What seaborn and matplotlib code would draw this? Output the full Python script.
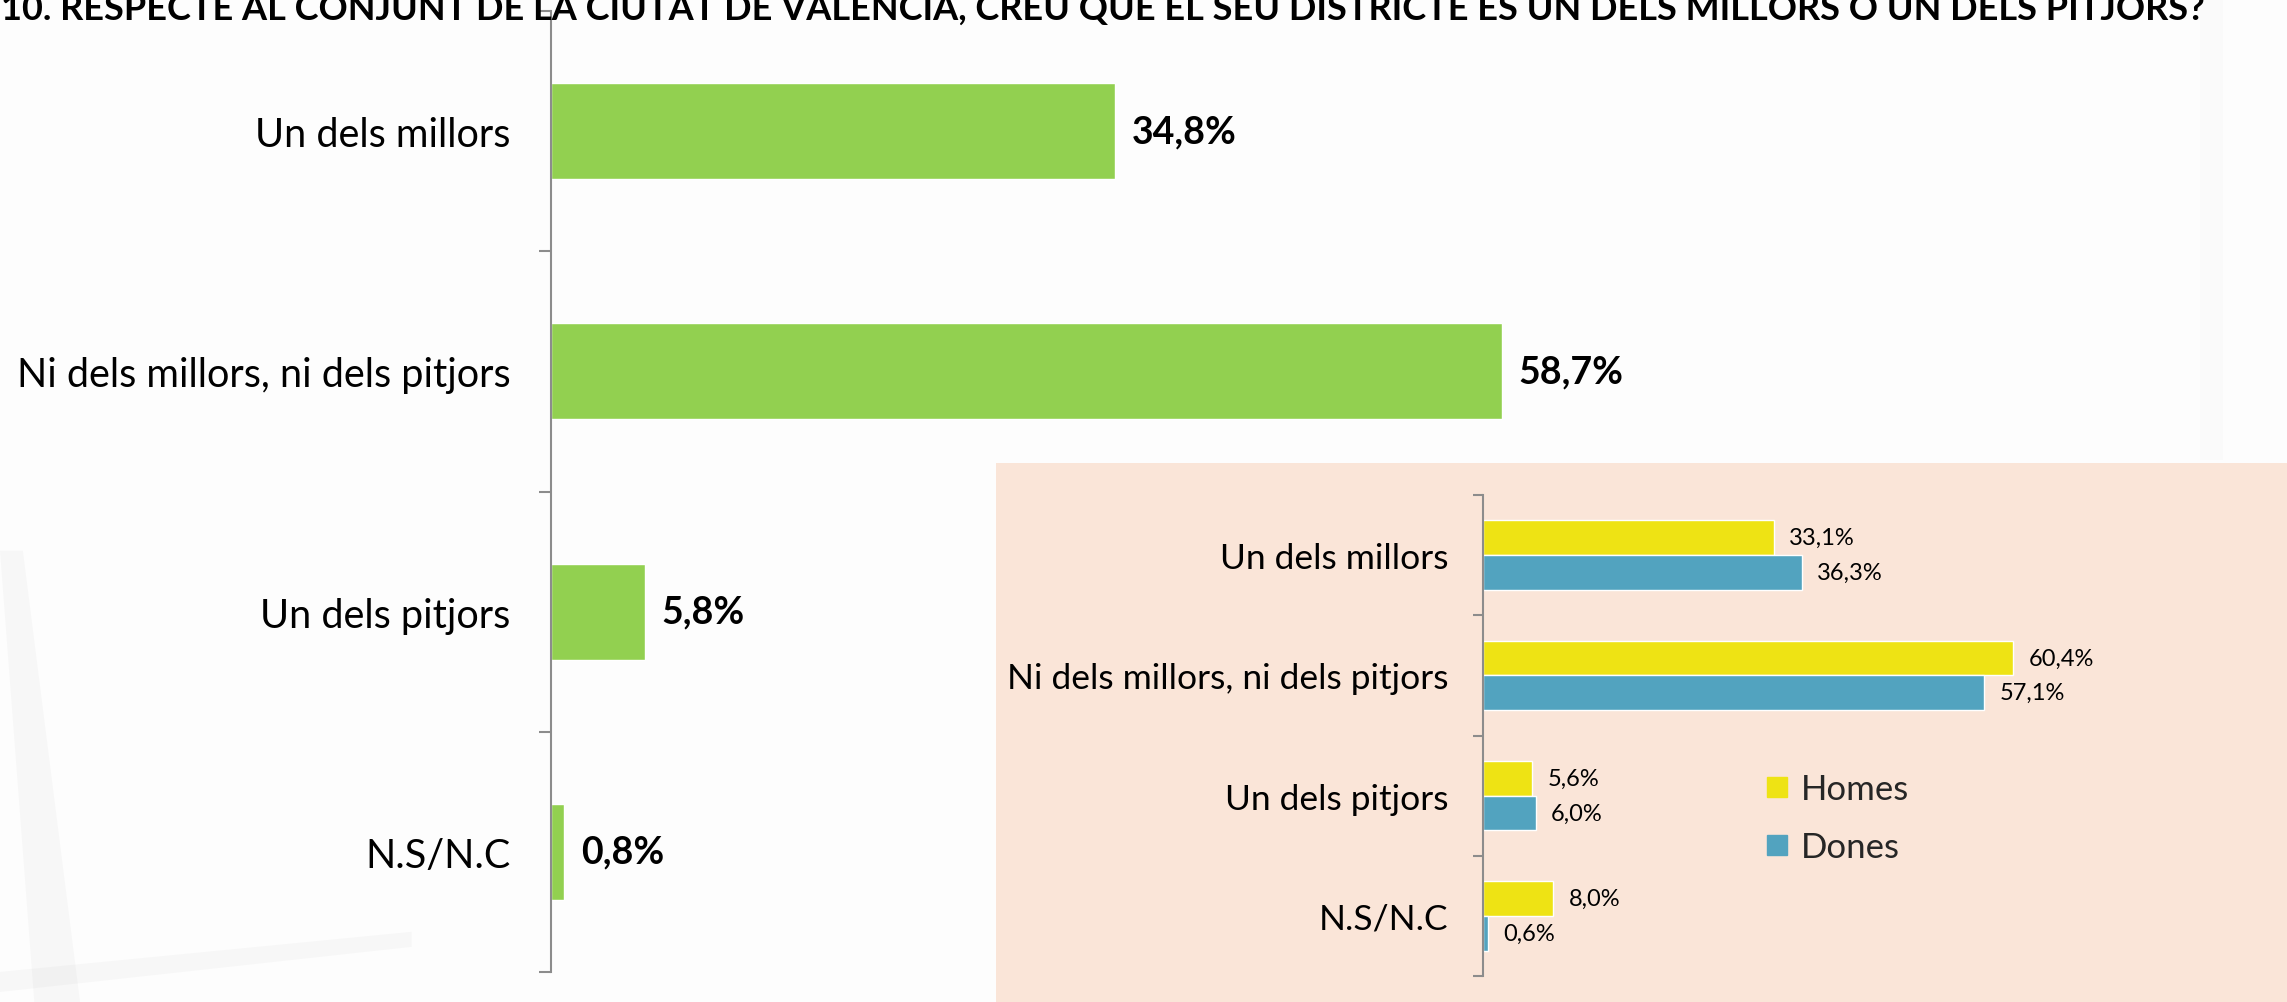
import matplotlib
matplotlib.use("Agg")
import matplotlib.pyplot as plt
import seaborn as sns
import pandas as pd
from matplotlib.patches import Rectangle, Polygon
from matplotlib.lines import Line2D

# dades
categories = ['Un dels millors', 'Ni dels millors, ni dels pitjors', 'Un dels pitjors', 'N.S/N.C']
total = [34.8, 58.7, 5.8, 0.8]
homes = [33.1, 60.4, 5.6, 8.0]
dones = [36.3, 57.1, 6.0, 0.6]
sexes = ['Homes', 'Dones']

title = ('10. RESPECTE AL CONJUNT DE LA CIUTAT DE VALÈNCIA, CREU QUE EL SEU '
         'DISTRICTE ÉS UN DELS MILLORS O UN DELS PITJORS?')

GREEN = '#92D050'
YELLOW = '#EEE314'
BLUE = '#52A3BF'
PEACH = '#FAE5D8'
AXIS_GREY = '#8C8C8C'


def pct(v):
    return f'{v:.1f}%'.replace('.', ',')


sns.set_theme(style='white')
plt.rcParams['font.family'] = ['Lato', 'DejaVu Sans']

W, H = 2287, 1003
fig = plt.figure(figsize=(W / 100, H / 100), dpi=100)
fig.patch.set_facecolor('#fdfdfd')

# fons: ombres suaus
fig.add_artist(Polygon([(0, 0.45), (0.010, 0.45), (0.035, 0.0), (0.015, 0.0)],
                       closed=True, transform=fig.transFigure, color='#a0a0a0', alpha=0.06, lw=0, zorder=-2))
fig.add_artist(Polygon([(0, 0.03), (0.18, 0.07), (0.18, 0.055), (0, 0.010)],
                       closed=True, transform=fig.transFigure, color='#a0a0a0', alpha=0.06, lw=0, zorder=-2))
fig.add_artist(Polygon([(0.962, 1.0), (0.972, 1.0), (0.972, 0.54), (0.962, 0.54)],
                       closed=True, transform=fig.transFigure, color='#a0a0a0', alpha=0.025, lw=0, zorder=-2))

# títol (tallat per dalt com a l'original)
fig.text(2205 / W, 1 - 20 / H, title, ha='right', va='baseline',
         fontsize=26, fontweight='bold', color='black')

# gràfic principal
ax = fig.add_axes([551 / W, 1 - 973 / H, 1620 / W, (973 - 12) / H])
ax.set_facecolor('none')
sns.barplot(x=total, y=categories, color=GREEN, saturation=1, width=0.4, ax=ax)
ax.set_xlim(0, 100)
ax.set_ylim(3.5, -0.5)
ax.bar_label(ax.containers[0], labels=[pct(v) for v in total], padding=12,
             fontsize=27, fontweight='bold', color='black')
for s in ['top', 'right', 'bottom']:
    ax.spines[s].set_visible(False)
ax.spines['left'].set_color(AXIS_GREY)
ax.spines['left'].set_linewidth(1.5)
ax.set_xticks([])
ax.set_yticks([-0.5, 0.5, 1.5, 2.5, 3.5], minor=True)
ax.tick_params(axis='y', which='major', length=0, pad=29, labelsize=28.5, labelcolor='black')
ax.tick_params(axis='y', which='minor', left=True, length=9, width=1.5, color=AXIS_GREY, direction='out')
ax.set_xlabel('')
ax.set_ylabel('')

# requadre per sexe
fig.add_artist(Rectangle((996 / W, 0), 1 - 996 / W, 1 - 464 / H, transform=fig.transFigure,
                         facecolor=PEACH, edgecolor='none', zorder=-1))

df = pd.DataFrame({
    'categoria': categories * 2,
    'valor': homes + dones,
    'sexe': [sexes[0]] * len(categories) + [sexes[1]] * len(categories),
})

ax2 = fig.add_axes([1483 / W, 1 - 977 / H, (W - 1483) / W, (977 - 496) / H])
ax2.set_facecolor('none')
sns.barplot(data=df, x='valor', y='categoria', hue='sexe', palette=[YELLOW, BLUE],
            saturation=1, width=0.58, ax=ax2, legend=False)
ax2.set_xlim(0, (W - 1483) / 8.78)
ax2.set_ylim(3.5, -0.5)
for cont, vals in zip(ax2.containers, [homes, dones]):
    ax2.bar_label(cont, labels=[pct(v) for v in vals], padding=11, fontsize=17, color='black')
for s in ['top', 'right', 'bottom']:
    ax2.spines[s].set_visible(False)
ax2.spines['left'].set_color(AXIS_GREY)
ax2.spines['left'].set_linewidth(1.5)
ax2.set_xticks([])
ax2.set_yticks([-0.5, 0.5, 1.5, 2.5, 3.5], minor=True)
ax2.tick_params(axis='y', which='major', length=0, pad=25, labelsize=25.5, labelcolor='black')
ax2.tick_params(axis='y', which='minor', left=True, length=7, width=1.5, color=AXIS_GREY, direction='out')
ax2.set_xlabel('')
ax2.set_ylabel('')

handles = [Line2D([0], [0], marker='s', linestyle='none', markersize=14,
                  markerfacecolor=c, markeredgecolor=c) for c in [YELLOW, BLUE]]
fig.legend(handles, sexes, loc='upper left', bbox_to_anchor=(1749 / W, 1 - 760 / H),
           frameon=False, fontsize=25, handletextpad=0.3, labelspacing=0.75,
           handlelength=0.8, borderaxespad=0)

fig.savefig('out.png', dpi=100, facecolor=fig.get_facecolor())
